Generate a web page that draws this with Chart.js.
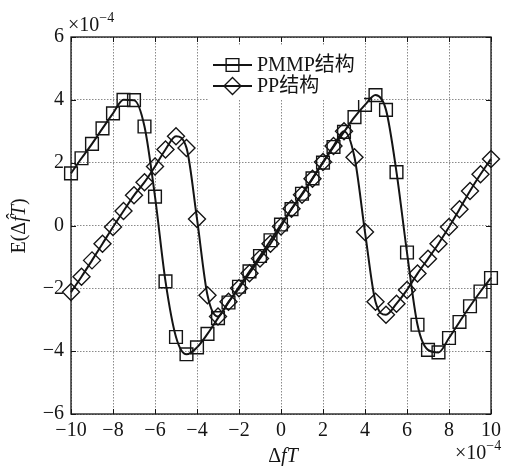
<!DOCTYPE html>
<html>
<head>
<meta charset="utf-8">
<style>
  html, body { margin: 0; padding: 0; background: #fff; }
  #wrap { width: 510px; height: 466px; }
</style>
<script src="https://cdn.jsdelivr.net/npm/chart.js@4.4.1/dist/chart.umd.min.js"></script>
</head>
<body>
<div id="wrap"><canvas id="c" width="510" height="466"></canvas></div>
<script>
// Normalised frequency offset ΔfT (units of 1e-4)
const xValues = [-10, -9.5, -9, -8.5, -8, -7.5, -7, -6.5, -6, -5.5, -5, -4.5, -4, -3.5, -3, -2.5, -2, -1.5, -1, -0.5,
                 0, 0.5, 1, 1.5, 2, 2.5, 3, 3.5, 4, 4.5, 5, 5.5, 6, 6.5, 7, 7.5, 8, 8.5, 9, 9.5, 10];

// Mean estimation error E(Δf̂T) (units of 1e-4)
const pmmpValues = [1.66, 2.14, 2.60, 3.09, 3.57, 4.00, 3.99, 3.15, 0.92, -1.78, -3.55, -4.10, -3.88, -3.45, -2.95, -2.45, -1.95, -1.46, -0.97, -0.47,
                    0.03, 0.52, 1.01, 1.50, 2.00, 2.50, 2.98, 3.45, 3.84, 4.15, 3.68, 1.70, -0.86, -3.16, -3.96, -4.04, -3.58, -3.07, -2.57, -2.10, -1.67];
const ppValues = [-2.12, -1.63, -1.11, -0.58, -0.05, 0.46, 0.96, 1.38, 1.88, 2.42, 2.84, 2.47, 0.21, -2.22, -2.90, -2.43, -2.00, -1.52, -1.05, -0.58,
                  -0.03, 0.53, 0.98, 1.49, 2.02, 2.53, 3.00, 2.17, -0.21, -2.43, -2.84, -2.49, -2.05, -1.53, -1.06, -0.58, -0.05, 0.52, 1.10, 1.63, 2.12];

const seriesNames = ['PMMP结构', 'PP结构'];
const xTicks = [-10, -8, -6, -4, -2, 0, 2, 4, 6, 8, 10];
const yTicks = [-6, -4, -2, 0, 2, 4, 6];

const INK = '#141414';
const SERIF = '"Liberation Serif", "Noto Sans CJK SC", serif';
const fmt = v => (v < 0 ? '\u2212' + Math.abs(v) : String(v));

// Draw a run of differently styled text pieces, starting at x (left aligned)
function drawRuns(ctx, runs, x, y) {
  let cx = x;
  for (const r of runs) {
    ctx.font = r.font;
    ctx.fillText(r.text, cx, y + (r.dy || 0));
    cx += ctx.measureText(r.text).width;
  }
  return cx;
}
function runsWidth(ctx, runs) {
  let w = 0;
  for (const r of runs) { ctx.font = r.font; w += ctx.measureText(r.text).width; }
  return w;
}

const decorations = {
  id: 'decorations',
  beforeDatasetsDraw(chart) {
    const { ctx, chartArea: a, scales: { x, y } } = chart;
    ctx.save();
    ctx.strokeStyle = INK;
    ctx.lineWidth = 1.3;
    ctx.strokeRect(a.left, a.top, a.right - a.left, a.bottom - a.top);
    ctx.lineWidth = 1;
    ctx.beginPath();
    for (const v of xTicks) {
      const px = Math.round(x.getPixelForValue(v)) + 0.5;
      ctx.moveTo(px, a.bottom); ctx.lineTo(px, a.bottom - 5);
      ctx.moveTo(px, a.top); ctx.lineTo(px, a.top + 5);
    }
    for (const v of yTicks) {
      const py = Math.round(y.getPixelForValue(v)) + 0.5;
      ctx.moveTo(a.left, py); ctx.lineTo(a.left + 5, py);
      ctx.moveTo(a.right, py); ctx.lineTo(a.right - 5, py);
    }
    ctx.stroke();
    ctx.restore();
  },
  afterDatasetsDraw(chart) {
    const { ctx, chartArea: a } = chart;
    ctx.save();
    // legend
    const lx = a.left + 137, ly = a.top + 8;
    ctx.fillStyle = '#fff';
    ctx.fillRect(lx, ly, 156, 55);
    chart.data.datasets.forEach((ds, i) => {
      const cy = ly + 20 + i * 21;
      ctx.strokeStyle = INK;
      ctx.lineWidth = ds.borderWidth;
      ctx.beginPath();
      ctx.moveTo(lx + 5, cy); ctx.lineTo(lx + 44, cy);
      ctx.stroke();
      ctx.lineWidth = ds.pointBorderWidth;
      ctx.fillStyle = 'rgba(0,0,0,0)';
      Chart.helpers.drawPoint(ctx, { pointStyle: ds.pointStyle, radius: ds.pointRadius, rotation: 0, borderWidth: ds.pointBorderWidth }, lx + 24.5, cy);
      ctx.fillStyle = INK;
      ctx.font = '20px ' + SERIF;
      ctx.textBaseline = 'middle';
      ctx.textAlign = 'left';
      ctx.fillText(ds.label, lx + 49, cy + 1);
    });

    // axis titles and exponent notes
    ctx.fillStyle = INK;
    ctx.textBaseline = 'alphabetic';
    ctx.textAlign = 'left';
    const roman = '20px "Liberation Serif", serif';
    const ital = 'italic 20px "Liberation Serif", serif';
    const small = '14px "Liberation Serif", serif';

    const xt = [{ text: 'Δ', font: roman }, { text: 'f', font: ital }, { text: 'T', font: ital }];
    drawRuns(ctx, xt, 283 - runsWidth(ctx, xt) / 2, 462);

    const ex = [{ text: '×10', font: roman }, { text: '\u22124', font: small, dy: -9 }];
    drawRuns(ctx, ex, 68, 31);
    drawRuns(ctx, ex, 455, 459);

    const yt = [{ text: 'E(Δ', font: roman }, { text: 'f\u0302', font: ital }, { text: 'T', font: ital }, { text: ')', font: roman }];
    ctx.translate(25, 226);
    ctx.rotate(-Math.PI / 2);
    drawRuns(ctx, yt, -runsWidth(ctx, yt) / 2, 0);
    ctx.restore();
  }
};

const baseDataset = {
  borderColor: INK,
  borderWidth: 2,
  pointBorderColor: INK,
  pointBackgroundColor: 'rgba(0,0,0,0)',
  pointBorderWidth: 1.4,
  cubicInterpolationMode: 'monotone',
  clip: false,
  fill: false
};

const gridOpts = { color: '#8a8a8a', lineWidth: 1, drawTicks: false, tickLength: 0 };

new Chart(document.getElementById('c'), {
  type: 'line',
  data: {
    datasets: [
      Object.assign({}, baseDataset, {
        label: seriesNames[0],
        data: xValues.map((v, i) => ({ x: v, y: pmmpValues[i] })),
        pointStyle: 'rect',
        pointRadius: 9
      }),
      Object.assign({}, baseDataset, {
        label: seriesNames[1],
        data: xValues.map((v, i) => ({ x: v, y: ppValues[i] })),
        pointStyle: 'rectRot',
        pointRadius: 8.5
      })
    ]
  },
  options: {
    responsive: false,
    animation: false,
    devicePixelRatio: 1,
    layout: { padding: { left: 0, top: 37, right: 19, bottom: 0 } },
    plugins: { legend: { display: false }, tooltip: { enabled: false } },
    scales: {
      x: {
        type: 'linear',
        min: -10, max: 10,
        afterBuildTicks: s => { s.ticks = xTicks.map(v => ({ value: v })); },
        afterFit: s => { s.height = 52; },
        ticks: { callback: fmt, color: INK, padding: 5, maxRotation: 0, autoSkip: false,
                 font: { family: SERIF, size: 20 } },
        grid: gridOpts,
        border: { display: false, dash: [1.5, 1.5] }
      },
      y: {
        type: 'linear',
        min: -6, max: 6,
        afterBuildTicks: s => { s.ticks = yTicks.map(v => ({ value: v })); },
        afterFit: s => { s.width = 71; },
        ticks: { callback: fmt, color: INK, padding: 7, autoSkip: false,
                 font: { family: SERIF, size: 20 } },
        grid: gridOpts,
        border: { display: false, dash: [1.5, 1.5] }
      }
    }
  },
  plugins: [decorations]
});
</script>
</body>
</html>
